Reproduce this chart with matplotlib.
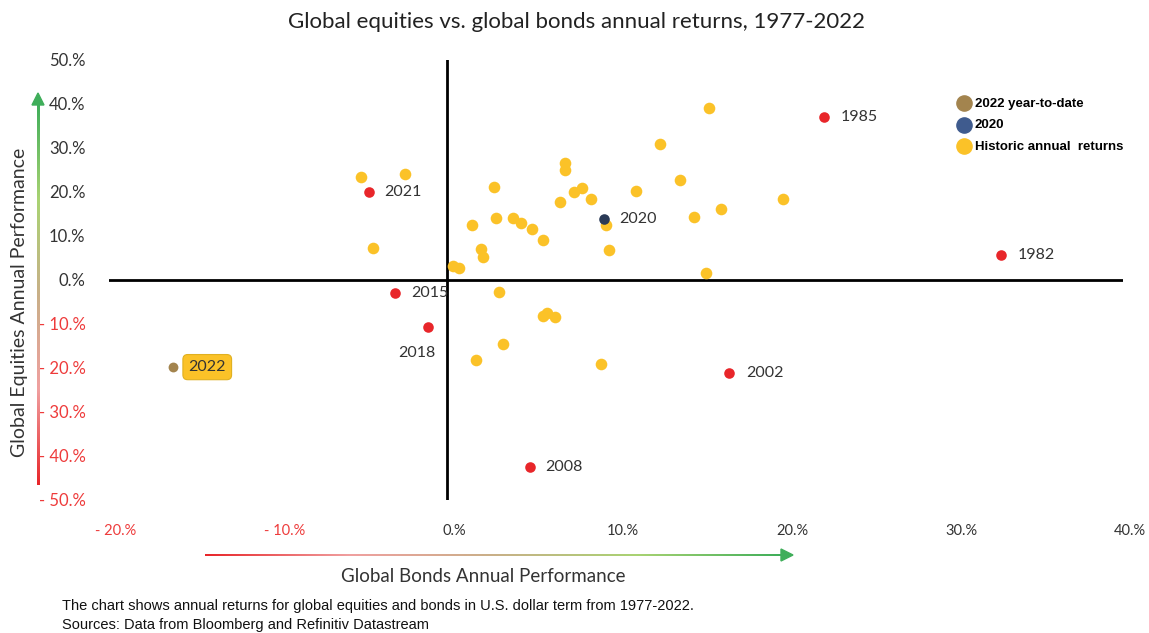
import matplotlib
matplotlib.use("Agg")
import matplotlib.pyplot as plt
import matplotlib.transforms as mtransforms
import numpy as np
from matplotlib.colors import LinearSegmentedColormap

# 数据 (债券收益 %, 股票收益 %)
hist_bonds = [-5.1, -2.5, -4.4, 2.8, 1.5, 2.9, 3.9, 4.4, 5.0, 5.7, 2.0, 2.15, 0.35, 0.7,
              6.7, 7.0, 7.0, 7.5, 8.0, 8.5, 9.4, 9.6, 11.2, 13.8, 14.6, 3.1, 5.7, 5.9,
              6.4, 3.3, 1.7, 9.1, 15.5, 12.6, 19.9, 16.2, 15.3]
hist_equities = [23.3, 24.0, 7.3, 21.2, 12.6, 14.1, 14.1, 12.9, 11.7, 9.2, 7.0, 5.2, 3.1, 2.7,
                 17.8, 26.7, 25.0, 19.9, 20.9, 18.4, 12.5, 6.75, 20.2, 22.7, 14.4, -2.8, -8.1, -7.5,
                 -8.3, -14.5, -18.2, -19.1, 39.0, 30.8, 18.4, 16.1, 1.6]

red_years = ['2021', '2015', '2018', '1985', '1982', '2002', '2008']
red_bonds = [-4.6, -3.1, -1.1, 22.3, 32.8, 16.7, 4.9]
red_equities = [20.0, -3.0, -10.7, 37.1, 5.75, -21.2, -42.5]

y2020 = (9.3, 13.8)
y2022 = (-16.2, -19.8)

x_ticks = [-20, -10, 0, 10, 20, 30, 40]
y_ticks = [-50, -40, -30, -20, -10, 0, 10, 20, 30, 40, 50]

YELLOW = '#FBC228'
RED = '#E8262A'
NAVY = '#2A3A56'
BROWN = '#A3844E'
DARK = '#333333'
NEG = '#EE3B3B'
GREEN = '#3FAE5A'

plt.rcParams['font.family'] = ['Lato', 'DejaVu Sans']

fig = plt.figure(figsize=(11.49, 6.33), dpi=100)
ax = fig.add_axes([109 / 1149, 133 / 633, 1014 / 1149, 440 / 633])
ax.set_xlim(-20, 40)
ax.set_ylim(-50, 50)
for s in ax.spines.values():
    s.set_visible(False)
ax.axhline(0, color='black', lw=2, zorder=1)
ax.axvline(0, color='black', lw=2, zorder=1)

ax.scatter(hist_bonds, hist_equities, s=70, color=YELLOW, zorder=3, linewidths=0)
ax.scatter(red_bonds, red_equities, s=58, color=RED, zorder=4, linewidths=0)
ax.scatter([y2020[0]], [y2020[1]], s=58, color=NAVY, zorder=4, linewidths=0)
ax.scatter([y2022[0]], [y2022[1]], s=50, color=BROWN, zorder=4, linewidths=0)

# 标注
offsets = {'2021': (11, 0, 'left'), '2015': (12, 0, 'left'), '2018': (-8, -19, 'center'),
           '1985': (12, 0, 'left'), '1982': (12, 0, 'left'), '2002': (12, 0, 'left'),
           '2008': (11, 0, 'left')}
for yr, bx, ey in zip(red_years, red_bonds, red_equities):
    dx, dy, ha = offsets[yr]
    ax.annotate(yr, (bx, ey), xytext=(dx, dy), textcoords='offset points',
                ha=ha, va='center', fontsize=11.5, color=DARK, zorder=5)
ax.annotate('2020', y2020, xytext=(11, 0), textcoords='offset points',
            ha='left', va='center', fontsize=11.5, color=DARK, zorder=5)
ax.annotate('2022', y2022, xytext=(11, 0), textcoords='offset points',
            ha='left', va='center', fontsize=11.5, color=DARK, zorder=5,
            bbox=dict(boxstyle='round,pad=0.35,rounding_size=0.3', fc=YELLOW, ec='#E0B020', lw=0.8))

# 刻度
ax.set_xticks(x_ticks)
ax.set_yticks(y_ticks)
ax.set_xticklabels([('- %d.%%' % -v) if v < 0 else '%d.%%' % v for v in x_ticks])
ax.set_yticklabels([('- %d.%%' % -v) if v < 0 else '%d.%%' % v for v in y_ticks])
ax.tick_params(axis='x', length=0, labelsize=10.5, pad=17)
ax.tick_params(axis='y', length=0, labelsize=12, pad=17)
for v, lab in zip(x_ticks, ax.get_xticklabels()):
    lab.set_color(NEG if v < 0 else DARK)
    lab.set_transform(lab.get_transform() + mtransforms.ScaledTranslation(0.07, 0, fig.dpi_scale_trans))
for v, lab in zip(y_ticks, ax.get_yticklabels()):
    lab.set_color(NEG if v < 0 else DARK)

# 图例
ax.scatter([], [], s=120, color=BROWN, label='2022 year-to-date')
ax.scatter([], [], s=120, color='#3F5B8E', label='2020')
ax.scatter([], [], s=120, color=YELLOW, label='Historic annual  returns')
leg = ax.legend(loc='upper left', bbox_to_anchor=(840 / 1014, 1 - 31 / 440), frameon=False,
                handletextpad=0.15, labelspacing=0.7, borderpad=0, handlelength=1.3,
                prop={'family': ['Liberation Sans Narrow', 'Liberation Sans'], 'weight': 'bold', 'size': 9.5})

# 渐变箭头
cmap = LinearSegmentedColormap.from_list('rg', ['#E8262A', '#F0A0A0', '#C9B088', '#A9D373', GREEN])
grad = np.linspace(0, 1, 256)

hx = fig.add_axes([205 / 1149, (633 - 556.5) / 633, (782 - 205) / 1149, 3 / 633])
hx.imshow(grad[np.newaxis, :], cmap=cmap, aspect='auto')
hx.set_axis_off()
fig.add_artist(plt.Polygon([[781 / 1149, (633 - 549) / 633], [793 / 1149, (633 - 555) / 633],
                            [781 / 1149, (633 - 561) / 633]], closed=True, color=GREEN,
                           transform=fig.transFigure))

vx = fig.add_axes([36.5 / 1149, (633 - 485) / 633, 3 / 1149, (485 - 104) / 633])
vx.imshow(grad[::-1, np.newaxis], cmap=cmap, aspect='auto')
vx.set_axis_off()
fig.add_artist(plt.Polygon([[32 / 1149, (633 - 105) / 633], [38 / 1149, (633 - 93) / 633],
                            [44 / 1149, (633 - 105) / 633]], closed=True, color=GREEN,
                           transform=fig.transFigure))

# 标题与轴标签
fig.text(576 / 1149, 1 - 22 / 633, 'Global equities vs. global bonds annual returns, 1977-2022',
         ha='center', va='center', fontsize=16, color='#222222')
fig.text(483 / 1149, 1 - 577 / 633, 'Global Bonds Annual Performance',
         ha='center', va='center', fontsize=13.5, color=DARK)
fig.text(20 / 1149, 1 - 302 / 633, 'Global Equities Annual Performance', rotation=90,
         ha='center', va='center', fontsize=14, color=DARK)
fig.text(62 / 1149, 1 - 606 / 633,
         'The chart shows annual returns for global equities and bonds in U.S. dollar term from 1977-2022.',
         ha='left', va='center', fontsize=10.5, color='#111111',
         family=['Liberation Sans Narrow', 'Liberation Sans'])
fig.text(62 / 1149, 1 - 625 / 633, 'Sources: Data from Bloomberg and Refinitiv Datastream',
         ha='left', va='center', fontsize=10.5, color='#111111',
         family=['Liberation Sans Narrow', 'Liberation Sans'])

fig.savefig('out.png', dpi=100, facecolor='white')
